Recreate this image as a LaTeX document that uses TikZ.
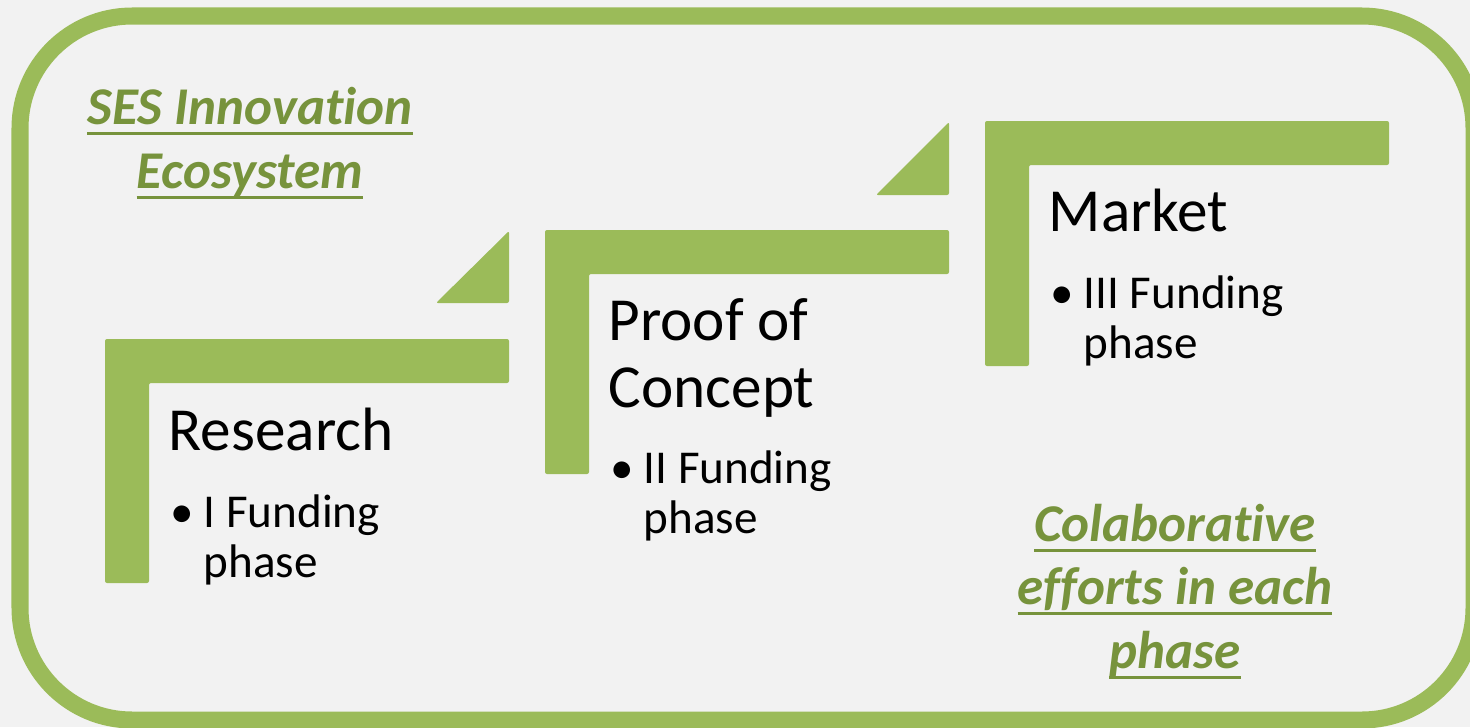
\documentclass[tikz,border=0pt]{standalone}
\usepackage{fontspec}
\setmainfont{Carlito}[Ligatures=NoCommon]
\definecolor{stepgreen}{HTML}{9BBB59}
\definecolor{titlegreen}{HTML}{77933C}
\definecolor{pagegrey}{HTML}{F2F2F2}
\newsavebox{\ulinebox}
\newcommand{\ulined}[1]{\sbox{\ulinebox}{#1}\rlap{\rule[-3pt]{\wd\ulinebox}{0.85pt}}\usebox{\ulinebox}}
\newcommand{\bulletline}[2]{\makebox[0.33cm][l]{\textbullet}#1\\\hspace*{0.33cm}#2}

\begin{document}
\begin{tikzpicture}[x=0.01cm, y=-0.01cm,
  stepbar/.style={fill=stepgreen, rounded corners=0.02cm},
  stage/.style={anchor=base west, inner sep=0pt, align=left, font=\fontsize{17.4}{19}\selectfont},
  item/.style={anchor=base west, inner sep=0pt, align=left, font=\fontsize{13.4}{14.2}\selectfont},
  banner/.style={anchor=base, inner sep=0pt, align=center, text=titlegreen, font=\fontsize{15.1}{18}\selectfont\bfseries\itshape}]
\fill[pagegrey] (0,0) rectangle (1470,727);
\useasboundingbox (0,0) rectangle (1470,727);
\draw[stepgreen, line width=0.17cm, rounded corners=1.12cm] (20,16) rectangle (1474,720);
\fill[stepbar] (105,339) -- (509,339) -- (509,383) -- (149,383) -- (149,583) -- (105,583) -- cycle;
\fill[stepbar] (545,230) -- (949,230) -- (949,274) -- (589,274) -- (589,474) -- (545,474) -- cycle;
\fill[stepbar] (985,121) -- (1389,121) -- (1389,165) -- (1029,165) -- (1029,366) -- (985,366) -- cycle;
\fill[stepbar] (436,303) -- (509,231) -- (509,303) -- cycle;
\fill[stepbar] (876,195) -- (949,122) -- (949,195) -- cycle;
\node[stage] (research) at (168,450) {Research};
\node[stage] (proof) at (608,407) {Proof of\\Concept};
\node[stage] (market) at (1048,231) {Market};
\node[item] (researchitem) at (170,577) {\bulletline{I Funding}{phase}};
\node[item] (proofitem) at (610,533) {\bulletline{II Funding}{phase}};
\node[item] (marketitem) at (1050,358) {\bulletline{III Funding}{phase}};
\node[banner] (ecosystem) at (250,188) {\ulined{SES Innovation}\\\ulined{Ecosystem}};
\node[banner] (efforts) at (1175,668) {\ulined{Colaborative}\\\ulined{efforts in each}\\\ulined{phase}};
\end{tikzpicture}
\end{document}
